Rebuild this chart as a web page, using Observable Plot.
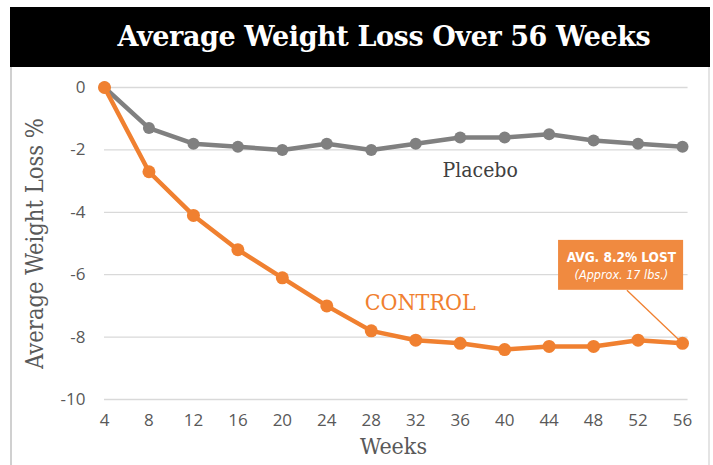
<!DOCTYPE html>
<html>
<head>
<meta charset="utf-8">
<script src="https://cdn.jsdelivr.net/npm/d3@7"></script>
<script src="https://cdn.jsdelivr.net/npm/@observablehq/plot@0.6"></script>
<style>
  body { margin: 0; background: #fff; width: 713px; height: 465px; overflow: hidden; position: relative; }
  #frame { position: absolute; left: 10px; top: 7px; width: 696px; height: 470px; border-left: 2px solid #d0d0d0; border-right: 2px solid #e4e4e4; }
  #title { position: absolute; left: 10px; top: 7px; width: 700px; height: 60px; background: #000; color: #fff;
           font-family: "DejaVu Serif", serif; font-weight: bold; font-size: 27px; line-height: 60px;
           text-align: center; box-sizing: border-box; padding-left: 48px; letter-spacing: -0.4px; }
  #chart { position: absolute; left: 0; top: 67px; }
</style>
</head>
<body>
<div id="frame"></div>
<div id="title">Average Weight Loss Over 56 Weeks</div>
<div id="chart"></div>
<script>
const weeks   = [4, 8, 12, 16, 20, 24, 28, 32, 36, 40, 44, 48, 52, 56];
const placebo = [0, -1.3, -1.8, -1.9, -2.0, -1.8, -2.0, -1.8, -1.6, -1.6, -1.5, -1.7, -1.8, -1.9];
const control = [0, -2.7, -4.1, -5.2, -6.1, -7.0, -7.8, -8.1, -8.2, -8.4, -8.3, -8.3, -8.1, -8.2];
const yTicks  = [0, -2, -4, -6, -8, -10];

const seriesLabels = [
  {text: "Placebo", x: 37.8, y: -2.66},
  {text: "CONTROL", x: 32.4, y: -6.9}
];
const calloutBox  = [{x1: 44.85, x2: 56.1, y1: -4.9, y2: -6.5}];
const calloutLink = [{x1: 51.0, y1: -6.5, x2: 56, y2: -8.2}];
const calloutMain = [{text: "AVG. 8.2% LOST", x: 50.5, y: -5.45}];
const calloutSub  = [{text: "(Approx. 17 lbs.)", x: 50.5, y: -6.02}];

const orange = "#F08030";
const gray = "#808080";
const slab = "'DejaVu Serif Condensed', 'DejaVu Serif', serif";

const pData = weeks.map((w, i) => ({week: w, v: placebo[i]}));
const cData = weeks.map((w, i) => ({week: w, v: control[i]}));

const chart = Plot.plot({
  width: 713,
  height: 398,
  marginLeft: 104,
  marginRight: 31,
  marginTop: 20,
  marginBottom: 66,
  style: {fontFamily: "'Open Sans', sans-serif", background: "transparent", overflow: "visible"},
  x: {domain: [4, 56], label: null},
  y: {domain: [-10, 0], label: null},
  marks: [
    Plot.ruleY(yTicks, {x1: 4, x2: 56.5, stroke: "#d9d9d9", strokeWidth: 1.3}),
    Plot.axisX({ticks: weeks, tickSize: 0, tickPadding: 14, fontSize: 17, fill: "#595959", label: null, tickFormat: d => String(d)}),
    Plot.axisY({ticks: yTicks, tickSize: 0, tickPadding: 19, fontSize: 17, fill: "#595959", label: null, tickFormat: d => String(d)}),
    Plot.text(["Weeks"], {frameAnchor: "bottom", dy: 54, fontSize: 23, fill: "#595959", fontFamily: slab}),
    Plot.text(["Average Weight Loss %"], {frameAnchor: "left", textAnchor: "middle", dx: -69, rotate: -90, fontSize: 23.5, fill: "#595959", fontFamily: slab}),
    Plot.line(pData, {x: "week", y: "v", stroke: gray, strokeWidth: 4.5}),
    Plot.dot(pData, {x: "week", y: "v", fill: gray, r: 6}),
    Plot.line(cData, {x: "week", y: "v", stroke: orange, strokeWidth: 4.5}),
    Plot.dot(cData, {x: "week", y: "v", fill: orange, r: 6.5}),
    Plot.text(seriesLabels.slice(0, 1), {x: "x", y: "y", text: "text", fill: "#404040", fontSize: 21, fontFamily: slab}),
    Plot.text(seriesLabels.slice(1), {x: "x", y: "y", text: "text", fill: orange, fontSize: 23, fontFamily: slab}),
    Plot.link(calloutLink, {x1: "x1", y1: "y1", x2: "x2", y2: "y2", stroke: orange, strokeWidth: 1.3}),
    Plot.rect(calloutBox, {x1: "x1", x2: "x2", y1: "y1", y2: "y2", fill: "#F08A40"}),
    Plot.text(calloutMain, {x: "x", y: "y", text: "text", fill: "#fff", fontWeight: "bold", fontSize: 13.5, fontFamily: "'DejaVu Sans Condensed', 'DejaVu Sans', sans-serif"}),
    Plot.text(calloutSub, {x: "x", y: "y", text: "text", fill: "#fff", fontStyle: "italic", fontSize: 12.5, fontFamily: "'DejaVu Sans Condensed', 'DejaVu Sans', sans-serif"})
  ]
});
document.getElementById("chart").appendChild(chart);
</script>
</body>
</html>
